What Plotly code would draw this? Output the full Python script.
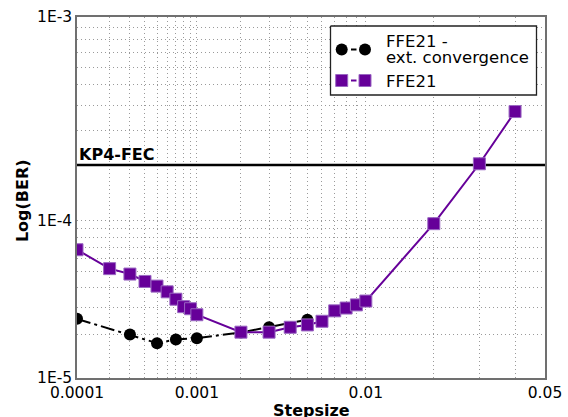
import numpy as np
import plotly.graph_objects as go

# ---- data ----
steps_ext = [1e-4, 3e-4, 5e-4, 7e-4, 1e-3, 2e-3, 3e-3, 5e-3]
ber_ext = [2.52e-5, 1.99e-5, 1.74e-5, 1.84e-5, 1.88e-5, 2.05e-5, 2.22e-5, 2.49e-5]

steps_ffe = [1e-4, 2e-4, 3e-4, 4e-4, 5e-4, 6e-4, 7e-4, 8e-4, 9e-4,
             1e-3, 2e-3, 3e-3, 4e-3, 5e-3, 6e-3, 7e-3, 8e-3, 9e-3,
             1e-2, 2e-2, 3e-2, 4e-2]
ber_ffe = [6.76e-5, 5.21e-5, 4.83e-5, 4.35e-5, 4.07e-5, 3.75e-5, 3.37e-5, 3.02e-5, 2.93e-5,
           2.68e-5, 2.06e-5, 2.06e-5, 2.22e-5, 2.30e-5, 2.43e-5, 2.84e-5, 2.96e-5, 3.10e-5,
           3.28e-5, 9.57e-5, 2.03e-4, 3.72e-4]

kp4_fec = 2e-4

series_names = ["FFE21 -", "ext. convergence", "FFE21"]

x_range = [1e-4, 5e-2]
y_range = [1e-5, 1e-3]
x_major = [1e-4, 1e-3, 1e-2, 5e-2]
x_labels = ["0.0001", "0.001", "0.01", "0.05"]
y_major = [1e-5, 1e-4, 1e-3]
y_labels = ["1E-5", "1E-4", "1E-3"]


# axis scale used by the original: -ln(-log10(v))
def T(v):
    v = np.asarray(v, dtype=float)
    return -np.log(-np.log10(v))


def grid_values(lo, hi):
    vals = []
    d = 10.0 ** np.floor(np.log10(lo))
    while d <= hi * 1.0001:
        for m in range(1, 10):
            v = m * d
            if lo * 0.9999 <= v <= hi * 1.0001:
                vals.append(v)
        d *= 10
    return vals


def labels_for(vals, majors, labs):
    out = []
    for v in vals:
        lab = ""
        for m, l in zip(majors, labs):
            if abs(v - m) / m < 1e-6:
                lab = l
        out.append(lab)
    return out


xg = grid_values(*x_range)
yg = grid_values(*y_range)
xtext = labels_for(xg, x_major, x_labels)
ytext = labels_for(yg, y_major, y_labels)

PURPLE = "#660099"
FONT = "DejaVu Sans"
W, H = 568, 417
ML, MR, MT, MB = 77, 23, 17, 39
PW, PH = W - ML - MR, H - MT - MB

fig = go.Figure()
# KP4-FEC threshold line across the whole x range
fig.add_trace(go.Scatter(
    x=T(x_range), y=T([kp4_fec, kp4_fec]), mode="lines",
    line=dict(color="black", width=2.5), showlegend=False, hoverinfo="skip",
))
fig.add_trace(go.Scatter(
    x=T(steps_ext), y=T(ber_ext), mode="lines+markers",
    name=series_names[0] + " " + series_names[1], showlegend=False,
    line=dict(color="black", width=2, dash="14px,4px,3px,4px"),
    marker=dict(symbol="circle", size=12, color="black"),
))
fig.add_trace(go.Scatter(
    x=T(steps_ffe), y=T(ber_ffe), mode="lines+markers",
    name=series_names[2], showlegend=False,
    line=dict(color=PURPLE, width=2),
    marker=dict(symbol="square", size=12, color=PURPLE,
                line=dict(color="#9a66c2", width=1)),
))

# ---- gnuplot-style legend box, drawn on a hidden pixel-space overlay axis ----
box_l, box_r, box_t, box_b = 330.5, 536.5, 26, 95
fig.add_trace(go.Scatter(
    x=[box_l, box_r, box_r, box_l, box_l], y=[box_t, box_t, box_b, box_b, box_t],
    xaxis="x2", yaxis="y2", mode="lines", fill="toself", fillcolor="white",
    line=dict(color="#222222", width=1.3), showlegend=False, hoverinfo="skip",
))
sym_x = [341.7, 365.0]
dash_x = [351.0, 356.5]
rows = [(49.5, "black", "circle", None), (80.5, PURPLE, "square", "#9a66c2")]
for yy, col, sym, edge in rows:
    fig.add_trace(go.Scatter(
        x=dash_x, y=[yy, yy], xaxis="x2", yaxis="y2", mode="lines",
        line=dict(color=col, width=2), showlegend=False, hoverinfo="skip"))
    mk = dict(symbol=sym, size=12, color=col)
    if edge:
        mk["line"] = dict(color=edge, width=1)
    fig.add_trace(go.Scatter(
        x=sym_x, y=[yy, yy], xaxis="x2", yaxis="y2", mode="markers",
        marker=mk, showlegend=False, hoverinfo="skip"))

for txt, yy in zip(series_names, [41.5, 57.0, 81.5]):
    fig.add_annotation(text=txt, xref="x2", yref="y2", x=384, y=yy,
                       xanchor="left", yanchor="middle", showarrow=False,
                       font=dict(family=FONT, size=16.5, color="black"))

fig.add_annotation(text="<b>KP4-FEC</b>", xref="paper", x=0, xanchor="left",
                   yref="y", y=float(T(kp4_fec)), yanchor="bottom", yshift=-1,
                   showarrow=False, font=dict(family=FONT, size=16, color="black"))

axis_common = dict(
    showline=True, linecolor="#707070", linewidth=1.5, mirror=True,
    showgrid=True, gridcolor="#9a9a9a", griddash="1px,3px", gridwidth=1,
    zeroline=False, ticks="", tickmode="array", automargin=False,
    tickfont=dict(family=FONT, size=15.5, color="black"),
)
fig.update_layout(
    xaxis=dict(range=T(x_range).tolist(), tickvals=T(xg).tolist(),
               ticktext=xtext, **axis_common),
    yaxis=dict(range=T(y_range).tolist(), tickvals=T(yg).tolist(),
               ticktext=ytext, **axis_common),
    xaxis2=dict(overlaying="x", range=[ML, W - MR], visible=False, fixedrange=True),
    yaxis2=dict(overlaying="y", range=[MT + PH, MT], visible=False, fixedrange=True),
)

fig.add_annotation(text="<b>Stepsize</b>", xref="paper", x=0.5, yref="paper", y=0,
                   yshift=-32, yanchor="middle", showarrow=False,
                   font=dict(family=FONT, size=16, color="black"))
fig.add_annotation(text="<b>Log(BER)</b>", xref="paper", x=0, xshift=-55, xanchor="center",
                   yref="paper", y=0.49, yanchor="middle", textangle=-90, showarrow=False,
                   font=dict(family=FONT, size=16, color="black"))

fig.update_layout(
    width=W, height=H,
    margin=dict(l=ML, r=MR, t=MT, b=MB, autoexpand=False),
    plot_bgcolor="white", paper_bgcolor="white",
    font=dict(family=FONT, size=15.5, color="black"),
    showlegend=False,
)

fig.write_html("out.html", config={"displayModeBar": False},
               post_script="document.body.style.margin='0';document.body.style.padding='0';")
